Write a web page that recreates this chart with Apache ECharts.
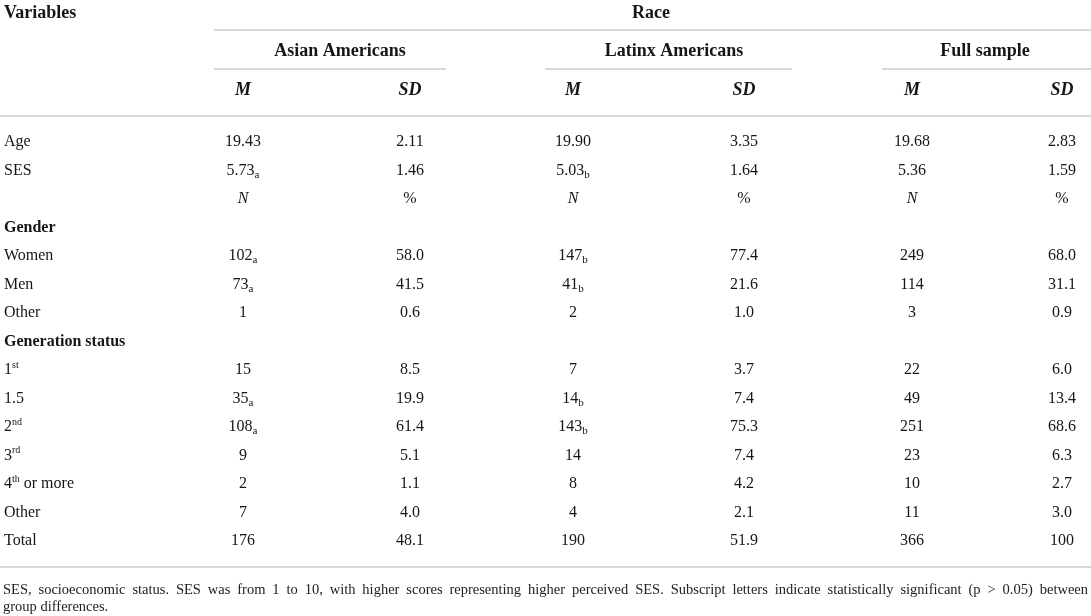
<!DOCTYPE html>
<html>
<head>
<meta charset="utf-8">
<script src="https://cdn.jsdelivr.net/npm/echarts@6/dist/echarts.min.js"></script>
<style>
  html, body { margin: 0; padding: 0; background: #fff; }
  #main { width: 1091px; height: 616px; }
</style>
</head>
<body>
<div id="main"></div>
<script>
// table content ("_x" = subscript letter, "^x" = superscript)
var rowLabels = ['Age', 'SES', '', 'Gender', 'Women', 'Men', 'Other', 'Generation status',
    '1^st', '1.5', '2^nd', '3^rd', '4^th or more', 'Other', 'Total'];
var boldRows = ['Gender', 'Generation status'];
var groupNames = ['Asian Americans', 'Latinx Americans', 'Full sample'];
var statNames = ['M', 'SD'];
var asianM = ['19.43', '5.73_a', 'N', '', '102_a', '73_a', '1', '', '15', '35_a', '108_a', '9', '2', '7', '176'];
var asianSD = ['2.11', '1.46', '%', '', '58.0', '41.5', '0.6', '', '8.5', '19.9', '61.4', '5.1', '1.1', '4.0', '48.1'];
var latinxM = ['19.90', '5.03_b', 'N', '', '147_b', '41_b', '2', '', '7', '14_b', '143_b', '14', '8', '4', '190'];
var latinxSD = ['3.35', '1.64', '%', '', '77.4', '21.6', '1.0', '', '3.7', '7.4', '75.3', '7.4', '4.2', '2.1', '51.9'];
var fullM = ['19.68', '5.36', 'N', '', '249', '114', '3', '', '22', '49', '251', '23', '10', '11', '366'];
var fullSD = ['2.83', '1.59', '%', '', '68.0', '31.1', '0.9', '', '6.0', '13.4', '68.6', '6.3', '2.7', '3.0', '100'];
var columns = [asianM, asianSD, latinxM, latinxSD, fullM, fullSD];
var noteLine1 = 'SES, socioeconomic status. SES was from 1 to 10, with higher scores representing higher perceived SES. Subscript letters indicate statistically significant (p > 0.05) between';
var noteLine2 = 'group differences.';

// layout (pixels)
var COL_X = [243, 410, 573, 744, 912, 1062];
var GROUP_X = [340, 674, 985];
var GROUP_LINE = [[214, 446], [545, 792], [882, 1091]];
var FONT = '"Liberation Serif", "DejaVu Serif", serif';
var INK = '#161616';
var RULE = '#cccccc';

var chart = echarts.init(document.getElementById('main'));

function cellText(s) {
    if (s === 'N') return '{it|N}';
    if (s.indexOf('_') > 0) {
        var p = s.split('_');
        return '{n|' + p[0] + '}{sub|' + p[1] + '}';
    }
    return '{n|' + s + '}';
}

function rowText(s) {
    if (boldRows.indexOf(s) >= 0) return '{b|' + s + '}';
    if (s.indexOf('^') > 0) {
        var p = s.split('^');
        var rest = p[1].split(' ');
        var sup = rest.shift();
        return '{n|' + p[0] + '}{sup|' + sup + '}' + (rest.length ? '{n| ' + rest.join(' ') + '}' : '');
    }
    return '{n|' + s + '}';
}

var richStyle = {
    n: { fontFamily: FONT, fontSize: 16, lineHeight: 20, color: INK },
    b: { fontFamily: FONT, fontSize: 16, lineHeight: 20, color: INK, fontWeight: 'bold' },
    it: { fontFamily: FONT, fontSize: 16, lineHeight: 20, color: INK, fontStyle: 'italic' },
    sub: { fontFamily: FONT, fontSize: 11, lineHeight: 11, color: INK, verticalAlign: 'bottom', padding: [7, 0, 0, 0] },
    sup: { fontFamily: FONT, fontSize: 10, lineHeight: 10, color: INK, verticalAlign: 'top', padding: [0, 0, 4, 0] }
};

var cells = [];
for (var c = 0; c < columns.length; c++) {
    for (var r = 0; r < columns[c].length; r++) {
        if (columns[c][r] === '') continue;
        cells.push({ value: [COL_X[c], r], cell: columns[c][r] });
    }
}

// header text + rules
var graphics = [];
function addText(x, y, text, opts) {
    graphics.push({
        type: 'text', x: x, y: y, silent: true,
        style: Object.assign({ text: text, fill: INK, font: 'bold 18px ' + FONT, textAlign: 'center', textVerticalAlign: 'middle' }, opts || {})
    });
}
function addRule(x1, x2, y) {
    graphics.push({
        type: 'line', silent: true,
        shape: { x1: x1, y1: y, x2: x2, y2: y },
        style: { stroke: RULE, lineWidth: 1.6 }
    });
}
addText(4, 13, 'Variables', { textAlign: 'left' });
addText(651, 13, 'Race');
addRule(214, 1091, 30);
for (var g = 0; g < groupNames.length; g++) {
    addText(GROUP_X[g], 51, groupNames[g]);
    addRule(GROUP_LINE[g][0], GROUP_LINE[g][1], 69);
    for (var s = 0; s < statNames.length; s++) {
        addText(COL_X[g * 2 + s], 90, statNames[s], { font: 'italic bold 18px ' + FONT });
    }
}
addRule(0, 1091, 116);
addRule(0, 1091, 567);

// footnote, first line justified
var noteFont = '14.5px ' + FONT;
var ctx = document.createElement('canvas').getContext('2d');
ctx.font = noteFont;
var words = noteLine1.split(' ');
var widths = words.map(function (w) { return ctx.measureText(w).width; });
var total = widths.reduce(function (a, b) { return a + b; }, 0);
var gap = (1088 - 3 - total) / (words.length - 1);
var xx = 3;
words.forEach(function (w, i) {
    addText(xx, 590, w, { font: noteFont, textAlign: 'left', fill: '#222222' });
    xx += widths[i] + gap;
});
addText(3, 607, noteLine2, { font: noteFont, textAlign: 'left', fill: '#222222' });

var option = {
    animation: false,
    backgroundColor: '#ffffff',
    grid: { left: 0, right: 0, top: 127.75, height: 427.5 },
    xAxis: { type: 'value', min: 0, max: 1091, show: false },
    yAxis: {
        type: 'category', data: rowLabels, inverse: true,
        axisLine: { show: false }, axisTick: { show: false }, splitLine: { show: false },
        axisLabel: {
            inside: true, margin: 4, align: 'left', color: INK,
            formatter: function (v) { return rowText(v); },
            rich: richStyle
        }
    },
    series: [{
        type: 'scatter',
        symbolSize: 1,
        itemStyle: { color: 'rgba(0,0,0,0)' },
        data: cells,
        label: {
            show: true, position: 'inside', align: 'center', verticalAlign: 'middle',
            color: INK, opacity: 1, textBorderWidth: 0,
            formatter: function (p) { return cellText(p.data.cell); },
            rich: richStyle
        }
    }],
    graphic: graphics
};
chart.setOption(option);
</script>
</body>
</html>
